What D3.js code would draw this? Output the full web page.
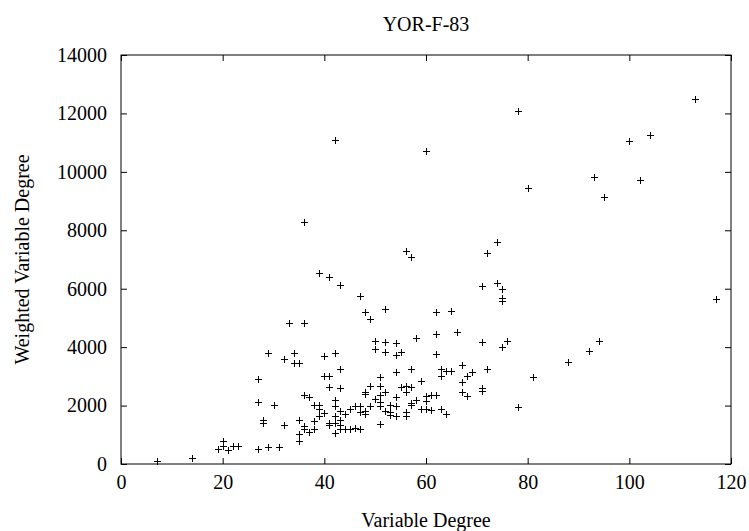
<!DOCTYPE html>
<html>
<head>
<meta charset="utf-8">
<script src="https://cdn.jsdelivr.net/npm/d3@7"></script>
<style>
  body { margin: 0; background: #fff; }
  text { font-family: "Liberation Serif", "Times New Roman", serif; font-size: 20px; fill: #000; }
</style>
</head>
<body>
<div id="chart"></div>
<script>
const width = 749,
  height = 531;

const title = "YOR-F-83";
const xLabel = "Variable Degree";
const yLabel = "Weighted Variable Degree";

const xTicks = [0, 20, 40, 60, 80, 100, 120];
const yTicks = [0, 2000, 4000, 6000, 8000, 10000, 12000, 14000];

// variable degree (x) and weighted variable degree (y)
const degree = [
  7, 14, 19, 20, 20, 21, 22, 23,
  27, 27, 27, 28, 28, 29, 29, 30, 31, 32, 32, 33,
  34, 34, 35, 35, 35, 35,
  36, 36, 36, 36, 36, 37, 37, 38, 38, 38,
  39, 39, 39, 39, 40, 40, 40, 41, 41, 41, 41, 41,
  42, 42, 42, 42, 42, 42, 42,
  43, 43, 43, 43, 43, 43, 43, 44, 44, 45, 45, 46, 46,
  47, 47, 47, 47, 48, 48, 48, 48, 48, 49, 49, 49,
  50, 50, 50, 51, 51, 51, 51, 51, 51,
  52, 52, 52, 52, 52, 53, 53, 53,
  54, 54, 54, 54, 54, 54, 55, 55,
  56, 56, 56, 56, 56, 57, 57, 57, 57, 57,
  58, 58, 59, 59, 60, 60, 60, 60, 61, 61,
  62, 62, 62, 62, 63, 63, 63, 64, 64, 65, 65, 66,
  67, 67, 67, 68, 68, 69, 71, 71, 71, 71, 72, 72,
  74, 74, 75, 75, 75, 75, 76, 78, 78, 80, 81,
  88, 92, 93, 94, 95, 100, 102, 104, 113, 117
];
const weighted = [
  113, 215, 520, 800, 600, 480, 610, 615,
  520, 2120, 2910, 1515, 1420, 580, 3816, 2030, 580, 1344, 3590, 4820,
  3800, 3450, 3450, 1515, 1030, 800,
  8270, 4820, 2345, 1290, 1200, 2290, 1080, 2004, 1457, 1215,
  6550, 2004, 1880, 1627, 3680, 3010, 1755, 6390, 3010, 2633, 1400, 1320,
  11100, 3806, 2175, 1980, 1627, 1400, 1060,
  6130, 3240, 2585, 1799, 1491, 1320, 1207, 1696, 1207, 1880, 1207, 1969, 1230,
  5765, 1969, 1778, 1207, 5207, 2472, 2393, 1799, 1720, 4979, 2653, 1969,
  4227, 3932, 2209, 2961, 2653, 2369, 2106, 1969, 1368,
  5310, 4171, 3850, 2448, 1822, 2027, 1765, 1662,
  4147, 3727, 3145, 2301, 1969, 1627, 3840, 2643,
  7282, 2687, 2448, 1778, 1627, 7088, 3258, 2643, 2086, 2004,
  4318, 2188, 2848, 1880, 10700, 2311, 2140, 1880, 2345, 1857,
  5196, 4466, 3761, 2369, 3258, 3029, 1891, 3200, 1720, 5253, 3200, 4523,
  3405, 2803, 2462, 3029, 2311, 3145, 6096, 4181, 2609, 2506, 7214, 3258,
  7600, 6188, 5994, 5696, 5594, 4022, 4227, 12090, 1949, 9447, 2961,
  3487, 3874, 9813, 4216, 9149, 11043, 9720, 11248, 12480, 5652
];

const points = degree.map((d, i) => ({ x: d, y: weighted[i] }));

const margin = { top: 55, right: 18, bottom: 67, left: 121 };

const x = d3
  .scaleLinear()
  .domain([0, 120])
  .range([margin.left, width - margin.right]);

const y = d3
  .scaleLinear()
  .domain([0, 14000])
  .range([height - margin.bottom, margin.top]);

const svg = d3
  .select("#chart")
  .append("svg")
  .attr("width", width)
  .attr("height", height);

const tickLen = 6;
const fmt = d3.format("d");

// axes with ticks pointing inward (gnuplot style), mirrored on top and right
svg
  .append("g")
  .attr("transform", `translate(0,${y(0)})`)
  .call(d3.axisBottom(x).tickValues(xTicks).tickFormat(fmt).tickSize(-tickLen).tickPadding(11))
  .call((g) => g.select(".domain").remove());

svg
  .append("g")
  .attr("transform", `translate(0,${y(14000)})`)
  .call(d3.axisTop(x).tickValues(xTicks).tickSize(-tickLen).tickFormat(""))
  .call((g) => g.select(".domain").remove());

svg
  .append("g")
  .attr("transform", `translate(${x(0)},0)`)
  .call(d3.axisLeft(y).tickValues(yTicks).tickFormat(fmt).tickSize(-tickLen).tickPadding(14))
  .call((g) => g.select(".domain").remove());

svg
  .append("g")
  .attr("transform", `translate(${x(120)},0)`)
  .call(d3.axisRight(y).tickValues(yTicks).tickSize(-tickLen).tickFormat(""))
  .call((g) => g.select(".domain").remove());

svg.selectAll(".tick line").attr("stroke", "#000");
svg.selectAll(".tick text").style("font-size", "20px");

svg
  .append("rect")
  .attr("x", x(0))
  .attr("y", y(14000))
  .attr("width", x(120) - x(0))
  .attr("height", y(0) - y(14000))
  .attr("fill", "none")
  .attr("stroke", "#000");

const s = 3.5;
svg
  .append("g")
  .selectAll("path")
  .data(points)
  .join("path")
  .attr("d", (d) => {
    const px = Math.round(x(d.x)) + 0.5,
      py = Math.round(y(d.y)) + 0.5;
    return `M${px - s},${py}H${px + s}M${px},${py - s}V${py + s}`;
  })
  .attr("stroke", "#000")
  .attr("stroke-width", 1)
  .attr("fill", "none");

svg
  .append("text")
  .attr("x", (x(0) + x(120)) / 2)
  .attr("y", 31)
  .attr("text-anchor", "middle")
  .text(title);

svg
  .append("text")
  .attr("x", (x(0) + x(120)) / 2)
  .attr("y", 527)
  .attr("text-anchor", "middle")
  .text(xLabel);

svg
  .append("text")
  .attr("transform", `translate(29,${(y(0) + y(14000)) / 2}) rotate(-90)`)
  .attr("text-anchor", "middle")
  .text(yLabel);
</script>
</body>
</html>
